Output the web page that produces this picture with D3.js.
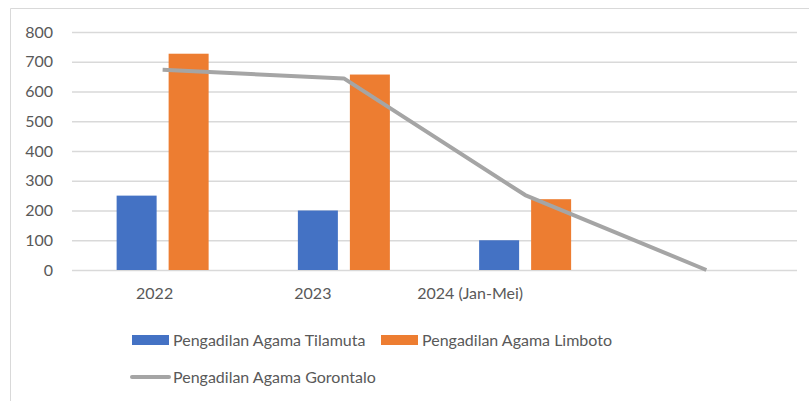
<!DOCTYPE html>
<html>
<head>
<meta charset="utf-8">
<script src="https://cdn.jsdelivr.net/npm/d3@7"></script>
<style>
  body { margin: 0; background: #fff; }
  svg { display: block; font-family: Lato, "Open Sans", sans-serif; }
</style>
</head>
<body>
<div id="chart"></div>
<script>
// Data
const categories = ["2022", "2023", "2024 (Jan-Mei)", ""];
const tilamuta = [250, 200, 100, null];
const limboto = [727, 657, 238, null];
const gorontalo = [673, 644, 252, 0];
const yTicks = [0, 100, 200, 300, 400, 500, 600, 700, 800];
const seriesNames = ["Pengadilan Agama Tilamuta", "Pengadilan Agama Limboto", "Pengadilan Agama Gorontalo"];
const colors = ["#4472c4", "#ed7d31", "#a5a5a5"];
// horizontal nudge of each category label, as placed in the picture
const labelShift = [-8, -31, -55, 0];

const width = 809;
const height = 401;
const margin = { top: 32, right: 12, bottom: 131, left: 72 };

const svg = d3.select("#chart")
    .append("svg")
    .attr("width", width)
    .attr("height", height);

// outer frame (only left and top edges show)
svg.append("path")
    .attr("d", `M10.5,${height} V8.5 H${width}`)
    .attr("fill", "none")
    .attr("stroke", "#d9d9d9")
    .attr("stroke-width", 1);

const x = d3.scaleBand()
    .domain(categories.map((d, i) => i))
    .range([margin.left, width - margin.right]);

const y = d3.scaleLinear()
    .domain([0, 800])
    .range([height - margin.bottom, margin.top]);

// grid lines
svg.append("g")
    .attr("transform", `translate(${margin.left},0)`)
    .call(d3.axisLeft(y)
        .tickValues(yTicks)
        .tickSize(-(width - margin.left - margin.right))
        .tickFormat(""))
    .call(g => g.select(".domain").remove())
    .call(g => g.selectAll("line").attr("stroke", "#d9d9d9").attr("stroke-width", 1.5));

// y labels
svg.append("g")
    .attr("transform", `translate(${margin.left - 19},0)`)
    .call(d3.axisLeft(y).tickValues(yTicks).tickSize(0).tickPadding(0))
    .call(g => g.select(".domain").remove())
    .call(g => g.selectAll("text")
        .attr("fill", "#595959")
        .style("font-size", "16px")
        .style("font-family", "Lato, 'Open Sans', sans-serif"));

// x labels
svg.append("g")
    .attr("transform", `translate(0,${y(0)})`)
    .call(d3.axisBottom(x).tickSize(0).tickPadding(18).tickFormat(i => categories[i]))
    .call(g => g.select(".domain").remove())
    .call(g => g.selectAll("text")
        .attr("fill", "#595959")
        .attr("dx", i => labelShift[i])
        .style("font-size", "16px")
        .style("font-family", "Lato, 'Open Sans', sans-serif"));

// bars
const barW = 40;
const barGap = 12;
const bars = [tilamuta, limboto];
bars.forEach((series, s) => {
    svg.append("g")
        .selectAll("rect")
        .data(series.map((v, i) => ({ v, i })).filter(d => d.v !== null))
        .enter()
        .append("rect")
        .attr("x", d => x(d.i) + x.bandwidth() / 2 - barW - barGap / 2 + s * (barW + barGap))
        .attr("y", d => y(d.v))
        .attr("width", barW)
        .attr("height", d => y(0) - y(d.v))
        .attr("fill", colors[s]);
});

// line
const line = d3.line()
    .x((d, i) => x(i) + x.bandwidth() / 2)
    .y(d => y(d));

svg.append("path")
    .datum(gorontalo)
    .attr("d", line)
    .attr("fill", "none")
    .attr("stroke", colors[2])
    .attr("stroke-width", 4)
    .attr("stroke-linejoin", "round");

// legend
const legend = svg.append("g").style("font-size", "16px");
const legendItems = [
    { name: seriesNames[0], color: colors[0], type: "rect", x: 132, y: 340 },
    { name: seriesNames[1], color: colors[1], type: "rect", x: 381, y: 340 },
    { name: seriesNames[2], color: colors[2], type: "line", x: 132, y: 377 }
];
legendItems.forEach(d => {
    if (d.type === "rect") {
        legend.append("rect")
            .attr("x", d.x)
            .attr("y", d.y - 5)
            .attr("width", 37)
            .attr("height", 10)
            .attr("fill", d.color);
    } else {
        legend.append("line")
            .attr("x1", d.x)
            .attr("x2", d.x + 37)
            .attr("y1", d.y)
            .attr("y2", d.y)
            .attr("stroke", d.color)
            .attr("stroke-width", 4)
            .attr("stroke-linecap", "round");
    }
    legend.append("text")
        .attr("x", d.x + 41)
        .attr("y", d.y)
        .attr("dy", "0.35em")
        .attr("fill", "#595959")
        .text(d.name);
});
</script>
</body>
</html>
